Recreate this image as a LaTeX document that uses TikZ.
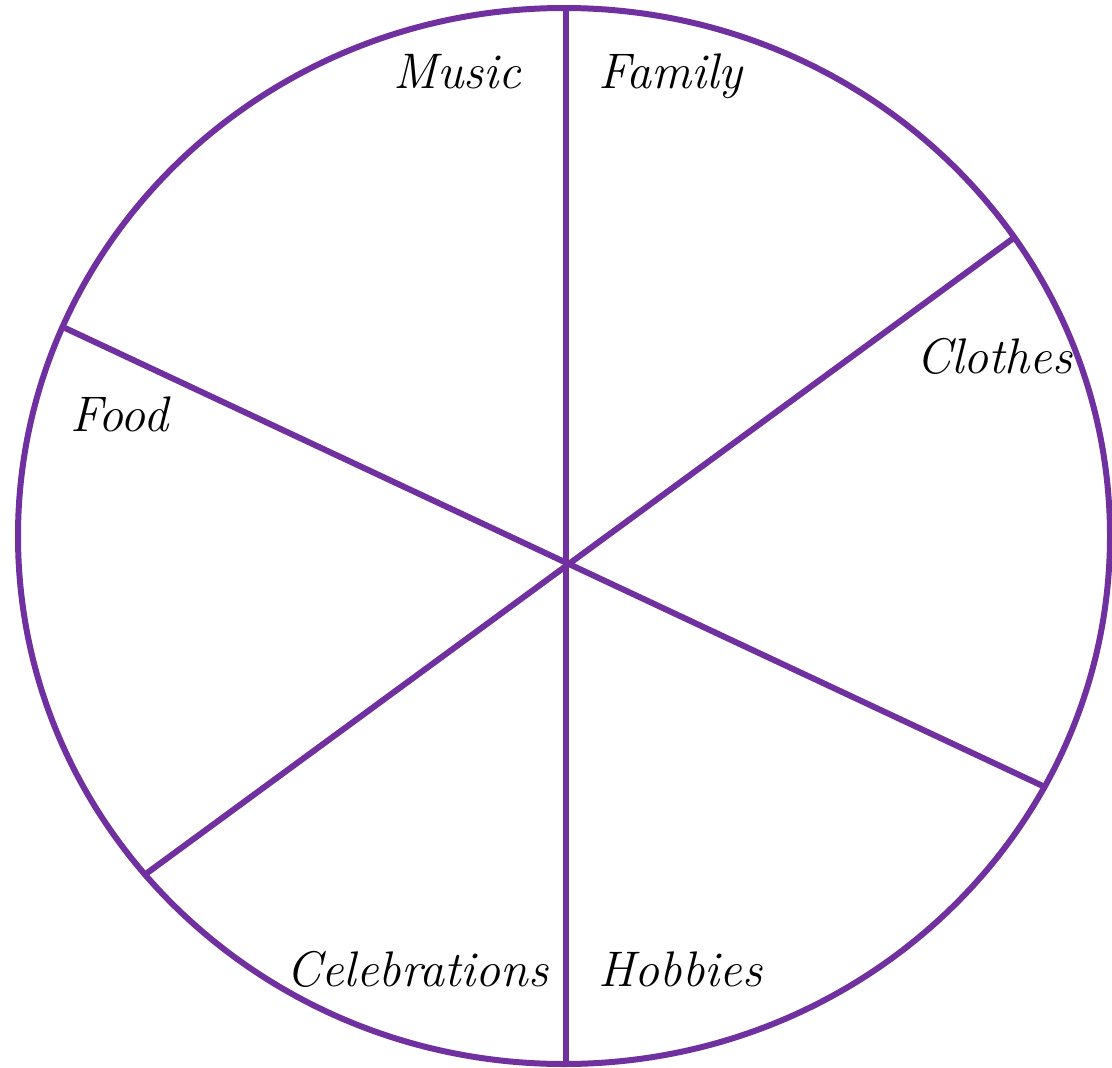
\documentclass[tikz,border=0pt]{standalone}
\usepackage{fontspec}
\setmainfont{Latin Modern Roman}
\begin{document}
\begin{tikzpicture}[x=1pt,y=-1pt,
  rim/.style={draw=wheel,line width=6pt},
  spoke/.style={draw=wheel,line width=6pt},
  lab/.style={anchor=base west,inner sep=0pt,font=\fontsize{50}{54}\selectfont\itshape}]
\definecolor{wheel}{HTML}{7030A0}
\useasboundingbox (0,0) rectangle (1112,1068);
\coordinate (c) at (566,563);
\coordinate (t) at (566,8);
\coordinate (b) at (566,1065);
\coordinate (p1) at (65,328);
\coordinate (p2) at (1045,787);
\coordinate (p3) at (1015,237);
\coordinate (p4) at (143,876);
\draw[rim] (564,536) ellipse [x radius=546, y radius=528];
\draw[spoke] (t) -- (b);
\draw[spoke] (p1) -- (p2);
\draw[spoke] (p3) -- (p4);
\node[lab] (music) at (393,88) {Music};
\node[lab] (family) at (598,88) {Family};
\node[lab] (clothes) at (916,373) {Clothes};
\node[lab] (food) at (70,431) {Food};
\node[lab] (celebrations) at (286,986) {Celebrations};
\node[lab] (hobbies) at (598,986) {Hobbies};
\end{tikzpicture}
\end{document}
